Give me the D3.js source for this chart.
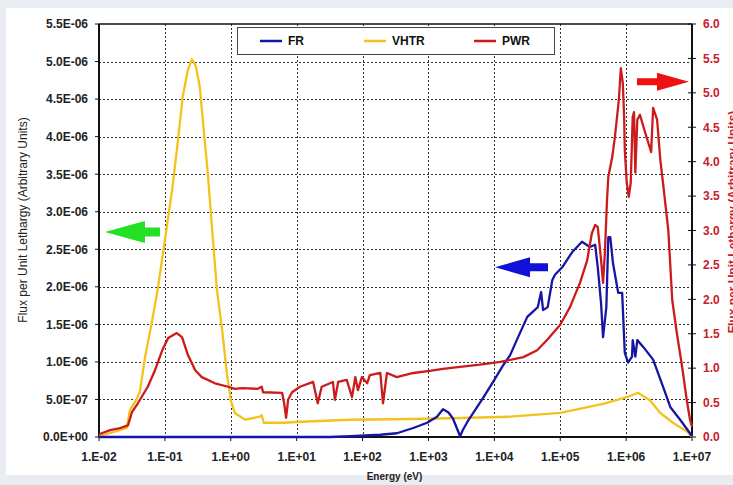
<!DOCTYPE html>
<html>
<head>
<meta charset="utf-8">
<script src="https://cdn.jsdelivr.net/npm/d3@7"></script>
<style>
  body { margin: 0; background: #e9ecf1; }
  svg { display: block; font-family: 'Liberation Sans', Arial, sans-serif; }
</style>
</head>
<body>
<svg id="chart" width="733" height="485"></svg>
<script>
// energy is stored as log10(E / eV); FR and VHTR flux in units of 1e-6, PWR on the right axis
const xDecades = [-2, -1, 0, 1, 2, 3, 4, 5, 6, 7];
const xTickLabels = ['1.E-02', '1.E-01', '1.E+00', '1.E+01', '1.E+02', '1.E+03', '1.E+04', '1.E+05', '1.E+06', '1.E+07'];
const leftTicks = [0, 0.5, 1, 1.5, 2, 2.5, 3, 3.5, 4, 4.5, 5, 5.5];
const leftTickLabels = ['0.0E+00', '5.0E-07', '1.0E-06', '1.5E-06', '2.0E-06', '2.5E-06', '3.0E-06', '3.5E-06', '4.0E-06', '4.5E-06', '5.0E-06', '5.5E-06'];
const rightTicks = [0, 0.5, 1, 1.5, 2, 2.5, 3, 3.5, 4, 4.5, 5, 5.5, 6];
const seriesNames = ['FR', 'VHTR', 'PWR'];
const seriesColors = ['#1616a6', '#f4c21c', '#cc1b1b'];

const frData = [
  [-2, 0], [1.5, 0], [1.81, 0.01], [2.27, 0.03], [2.52, 0.05], [2.77, 0.12], [2.98, 0.19],
  [3.13, 0.27], [3.22, 0.37], [3.30, 0.33], [3.37, 0.25], [3.43, 0.12], [3.48, 0.01], [3.52, 0.09],
  [3.59, 0.20], [3.71, 0.36], [3.83, 0.52], [4.0, 0.76], [4.13, 0.95], [4.24, 1.09], [4.34, 1.29],
  [4.50, 1.60], [4.66, 1.73], [4.71, 1.93], [4.74, 1.69], [4.81, 1.73], [4.88, 2.09], [4.92, 2.16],
  [5.03, 2.26], [5.18, 2.46], [5.33, 2.60], [5.45, 2.53], [5.53, 2.56], [5.57, 2.26], [5.62, 1.78],
  [5.65, 1.33], [5.70, 1.73], [5.73, 2.66], [5.76, 2.66], [5.80, 2.32], [5.88, 1.92], [5.94, 1.92],
  [5.98, 1.12], [6.03, 0.99], [6.09, 1.07], [6.10, 1.29], [6.14, 1.07], [6.17, 1.29], [6.26, 1.20],
  [6.41, 1.03], [6.56, 0.67], [6.67, 0.40], [6.82, 0.23], [6.97, 0.05], [7.0, 0.01]
];

const vhtrData = [
  [-2, 0.01], [-1.76, 0.07], [-1.58, 0.12], [-1.53, 0.36], [-1.45, 0.47], [-1.38, 0.60], [-1.30, 1.07],
  [-1.20, 1.52], [-1.11, 1.96], [-1.0, 2.62], [-0.89, 3.29], [-0.80, 3.96], [-0.73, 4.53], [-0.65, 4.89],
  [-0.59, 5.03], [-0.53, 4.94], [-0.47, 4.66], [-0.42, 4.18], [-0.35, 3.52], [-0.27, 2.62], [-0.21, 1.96],
  [-0.13, 1.42], [-0.06, 0.85], [0.0, 0.49], [0.06, 0.32], [0.22, 0.23], [0.44, 0.27], [0.47, 0.29],
  [0.50, 0.19], [0.82, 0.19], [0.98, 0.20], [1.25, 0.21], [1.81, 0.23], [2.77, 0.24], [3.33, 0.25],
  [4.24, 0.27], [5.0, 0.32], [5.65, 0.44], [6.01, 0.53], [6.18, 0.59], [6.36, 0.49], [6.52, 0.32],
  [6.71, 0.19], [6.93, 0.07], [7.0, 0.0]
];

const pwrData = [
  [-2, 0.04], [-1.83, 0.10], [-1.68, 0.13], [-1.56, 0.17], [-1.50, 0.36], [-1.41, 0.49], [-1.26, 0.73],
  [-1.15, 0.97], [-1.04, 1.26], [-0.95, 1.44], [-0.82, 1.51], [-0.74, 1.45], [-0.65, 1.19], [-0.54, 0.97],
  [-0.44, 0.87], [-0.24, 0.78], [-0.04, 0.73], [0.06, 0.70], [0.17, 0.71], [0.41, 0.70], [0.47, 0.73],
  [0.49, 0.65], [0.78, 0.64], [0.81, 0.49], [0.84, 0.28], [0.87, 0.54], [0.93, 0.65], [1.05, 0.73],
  [1.25, 0.80], [1.32, 0.49], [1.38, 0.73], [1.55, 0.80], [1.58, 0.54], [1.63, 0.80], [1.76, 0.83],
  [1.84, 0.58], [1.89, 0.87], [1.93, 0.68], [1.99, 0.87], [2.07, 0.78], [2.11, 0.90], [2.27, 0.93],
  [2.31, 0.49], [2.37, 0.93], [2.52, 0.87], [2.77, 0.93], [3.02, 0.96], [3.22, 0.99], [3.48, 1.02],
  [3.78, 1.05], [4.09, 1.09], [4.44, 1.16], [4.65, 1.26], [4.80, 1.41], [5.0, 1.63], [5.15, 1.89],
  [5.30, 2.24], [5.41, 2.57], [5.48, 2.96], [5.53, 3.08], [5.57, 3.05], [5.62, 2.57], [5.65, 2.24],
  [5.68, 2.72], [5.71, 3.44], [5.73, 3.78], [5.79, 4.07], [5.83, 4.36], [5.86, 4.63], [5.89, 4.90],
  [5.92, 5.36], [5.95, 5.14], [5.97, 4.65], [5.98, 4.17], [6.01, 3.69], [6.04, 3.49], [6.07, 3.69],
  [6.10, 4.65], [6.12, 4.72], [6.14, 3.84], [6.17, 4.61], [6.21, 4.68], [6.29, 4.42], [6.38, 4.14],
  [6.41, 4.78], [6.47, 4.61], [6.52, 4.02], [6.56, 3.69], [6.64, 3.01], [6.67, 2.50], [6.70, 1.99],
  [6.77, 1.51], [6.85, 1.02], [6.92, 0.54], [6.97, 0.25], [7.0, 0.15]
];

const W = 733, H = 485;
const margin = { top: 24, right: 41, bottom: 48, left: 99 };
const svg = d3.select('#chart');

svg.append('rect').attr('x', 6).attr('y', 8).attr('width', W - 6).attr('height', 467).attr('fill', '#fff');

const x = d3.scaleLog().domain([1e-2, 1e7]).range([margin.left, W - margin.right]);
const yL = d3.scaleLinear().domain([0, 5.5]).range([H - margin.bottom, margin.top]);
const yR = d3.scaleLinear().domain([0, 6]).range([H - margin.bottom, margin.top]);
const xE = lg => x(Math.pow(10, lg));

const x0 = x.range()[0], x1 = x.range()[1];
const yB = yL.range()[0], yT = yL.range()[1];

// grid
const grid = svg.append('g').attr('stroke', '#333').attr('stroke-width', 1).attr('stroke-dasharray', '2,2');
grid.selectAll('line.v').data(xDecades.slice(1, -1)).join('line')
  .attr('x1', d => Math.round(xE(d)) + 0.5).attr('x2', d => Math.round(xE(d)) + 0.5)
  .attr('y1', yT).attr('y2', yB);
grid.selectAll('line.h').data(leftTicks.slice(1, -1)).join('line')
  .attr('x1', x0).attr('x2', x1)
  .attr('y1', d => Math.round(yL(d)) + 0.5).attr('y2', d => Math.round(yL(d)) + 0.5);

// frame
const frame = svg.append('g').attr('stroke', '#111');
frame.append('line').attr('x1', x0).attr('x2', x1).attr('y1', yT).attr('y2', yT).attr('stroke-width', 1.5);
frame.append('line').attr('x1', x0).attr('x2', x0).attr('y1', yT).attr('y2', yB).attr('stroke-width', 2);
frame.append('line').attr('x1', x1).attr('x2', x1).attr('y1', yT).attr('y2', yB).attr('stroke-width', 2);
frame.append('line').attr('x1', x0).attr('x2', x1).attr('y1', yB).attr('y2', yB).attr('stroke-width', 2);

// ticks
frame.selectAll('line.lt').data(leftTicks).join('line')
  .attr('x1', x0 - 4).attr('x2', x0).attr('y1', d => yL(d)).attr('y2', d => yL(d)).attr('stroke-width', 1);
frame.selectAll('line.rt').data(rightTicks).join('line')
  .attr('x1', x1 - 4).attr('x2', x1 + 4).attr('y1', d => yR(d)).attr('y2', d => yR(d)).attr('stroke-width', 1);
frame.selectAll('line.bt').data(xDecades).join('line')
  .attr('x1', d => xE(d)).attr('x2', d => xE(d)).attr('y1', yB).attr('y2', yB + 4).attr('stroke-width', 1);

// tick labels
svg.append('g').selectAll('text').data(leftTicks).join('text')
  .attr('x', x0 - 11).attr('y', d => yL(d)).attr('dy', '0.36em')
  .attr('text-anchor', 'end').attr('font-size', 12).attr('font-weight', 'bold').attr('fill', '#222')
  .text((d, i) => leftTickLabels[i]);
svg.append('g').selectAll('text').data(rightTicks).join('text')
  .attr('x', x1 + 11).attr('y', d => yR(d)).attr('dy', '0.36em')
  .attr('font-size', 12).attr('font-weight', 'bold').attr('fill', '#c8202a')
  .text(d => d.toFixed(1));
svg.append('g').selectAll('text').data(xDecades).join('text')
  .attr('x', d => xE(d)).attr('y', yB + 24)
  .attr('text-anchor', 'middle').attr('font-size', 12).attr('font-weight', 'bold').attr('fill', '#222')
  .text((d, i) => xTickLabels[i]);

// axis titles
svg.append('text').attr('x', (x0 + x1) / 2 - 1).attr('y', yB + 43)
  .attr('text-anchor', 'middle').attr('font-size', 10).attr('font-weight', 'bold').attr('fill', '#222')
  .text('Energy (eV)');
svg.append('text').attr('transform', 'translate(26.5,220) rotate(-90)')
  .attr('text-anchor', 'middle').attr('font-size', 12).attr('fill', '#222')
  .text('Flux per Unit Lethargy (Arbitrary Units)');
svg.append('text').attr('transform', 'translate(737,222) rotate(-90)')
  .attr('text-anchor', 'middle').attr('font-size', 12).attr('font-weight', 'bold').attr('fill', '#c8202a')
  .text('Flux per Unit Lethargy (Arbitrary Units)');

// curves
const lineL = d3.line().x(d => xE(d[0])).y(d => yL(d[1]));
const lineR = d3.line().x(d => xE(d[0])).y(d => yR(d[1]));
const curves = [
  { data: vhtrData, gen: lineL, color: seriesColors[1] },
  { data: frData, gen: lineL, color: seriesColors[0] },
  { data: pwrData, gen: lineR, color: seriesColors[2] }
];
svg.append('g').selectAll('path').data(curves).join('path')
  .attr('d', d => d.gen(d.data))
  .attr('fill', 'none').attr('stroke', d => d.color)
  .attr('stroke-width', 2.3).attr('stroke-linejoin', 'round');

// arrows
function arrow(tx, ty, dir, headLen, headHalf, shaftLen, shaftHalf) {
  const b = tx + dir * headLen, e = b + dir * shaftLen;
  return `M${tx},${ty}L${b},${ty - headHalf}L${b},${ty - shaftHalf}L${e},${ty - shaftHalf}` +
    `L${e},${ty + shaftHalf}L${b},${ty + shaftHalf}L${b},${ty + headHalf}Z`;
}
svg.append('path').attr('d', arrow(xE(-1.91), yL(2.73), 1, 40, 11, 15, 4.5)).attr('fill', '#22e022');
svg.append('path').attr('d', arrow(xE(4.01), yL(2.26), 1, 35, 10, 18, 4)).attr('fill', '#1010d8');
svg.append('path').attr('d', arrow(xE(6.954), yR(5.16), -1, 32, 9, 20, 3.5)).attr('fill', '#ee1111');

// legend
const legend = svg.append('g');
legend.append('rect').attr('x', 237.5).attr('y', 27.5).attr('width', 317).attr('height', 27)
  .attr('fill', '#fff').attr('stroke', '#444').attr('stroke-width', 1);
const legendX = [260, 364, 474];
const items = legend.selectAll('g').data(seriesNames).join('g')
  .attr('transform', (d, i) => `translate(${legendX[i]},41)`);
items.append('line').attr('x1', 0).attr('x2', 22).attr('stroke', (d, i) => seriesColors[i]).attr('stroke-width', 2.5);
items.append('text').attr('x', 28).attr('dy', '0.36em')
  .attr('font-size', 12).attr('font-weight', 'bold').attr('fill', '#111')
  .text(d => d);
</script>
</body>
</html>
